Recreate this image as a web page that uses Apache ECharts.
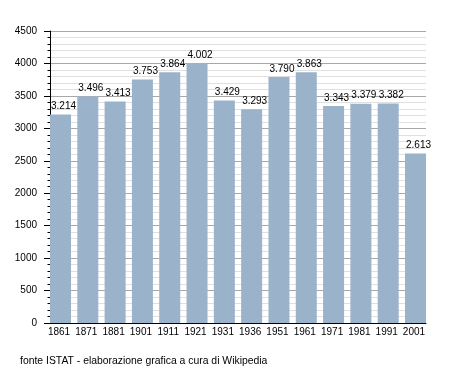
<!DOCTYPE html>
<html><head><meta charset="utf-8">
<script src="https://cdn.jsdelivr.net/npm/echarts@6/dist/echarts.min.js"></script>
<style>html,body{margin:0;padding:0;background:#fff}#c{width:455px;height:373px}</style>
</head><body><div id="c"></div>
<script>
const years = ['1861','1871','1881','1901','1911','1921','1931','1936','1951','1961','1971','1981','1991','2001'];
const population = [3214,3496,3413,3753,3864,4002,3429,3293,3790,3863,3343,3379,3382,2613];
const yTicks = [0,500,1000,1500,2000,2500,3000,3500,4000,4500];
const footer = 'fonte ISTAT - elaborazione grafica a cura di Wikipedia';

const FONT = 'Liberation Sans';
const chart = echarts.init(document.getElementById('c'), null, {renderer:'canvas'});
const fmt = v => String(v).replace(/\B(?=(\d{3})+(?!\d))/g, '.');
chart.setOption({
  animation:false,
  grid:[
    {left:50, right:29, top:31, bottom:50},
    {left:46.85, right:25.85, top:31, bottom:50}
  ],
  graphic:[{type:'text', left:20, top:356, style:{text:footer, font:'10.4px "Liberation Sans"', fill:'#000'}}],
  xAxis:[
    {type:'category', gridIndex:0, data:years, boundaryGap:true,
     axisLine:{lineStyle:{color:'#000', width:1}}, axisTick:{show:false},
     axisLabel:{show:false}},
    {type:'category', gridIndex:1, data:years, boundaryGap:true,
     axisLine:{show:false}, axisTick:{show:false},
     axisLabel:{color:'#000', fontFamily:FONT, fontSize:10, margin:4, interval:0, padding:[0,3,0,0]}}
  ],
  yAxis:[
    {type:'value', gridIndex:0, min:0, max:4500, interval:500,
     axisLine:{show:true, lineStyle:{color:'#000'}},
     axisTick:{show:true, inside:false, length:6, lineStyle:{color:'#000'}},
     minorTick:{show:true, splitNumber:5, length:2.5, lineStyle:{color:'#000'}},
     splitLine:{show:true, lineStyle:{color:'#a8a8a8', width:1}},
     minorSplitLine:{show:true, lineStyle:{color:'#e0e0e0', width:1}},
     axisLabel:{color:'#000', fontFamily:FONT, fontSize:10, margin:13,
       customValues: yTicks, formatter: v => String(v)}},
    {type:'value', gridIndex:1, min:0, max:4500, show:false}
  ],
  series:[
    {type:'bar', xAxisIndex:1, yAxisIndex:1, data:population, barWidth:21,
     itemStyle:{color:'#9ab2ca'},
     label:{show:true, position:'top', distance:3, offset:[3,0], color:'#000', fontFamily:FONT, fontSize:10,
       formatter:p=>fmt(p.value)}}
  ]
});
</script></body></html>
